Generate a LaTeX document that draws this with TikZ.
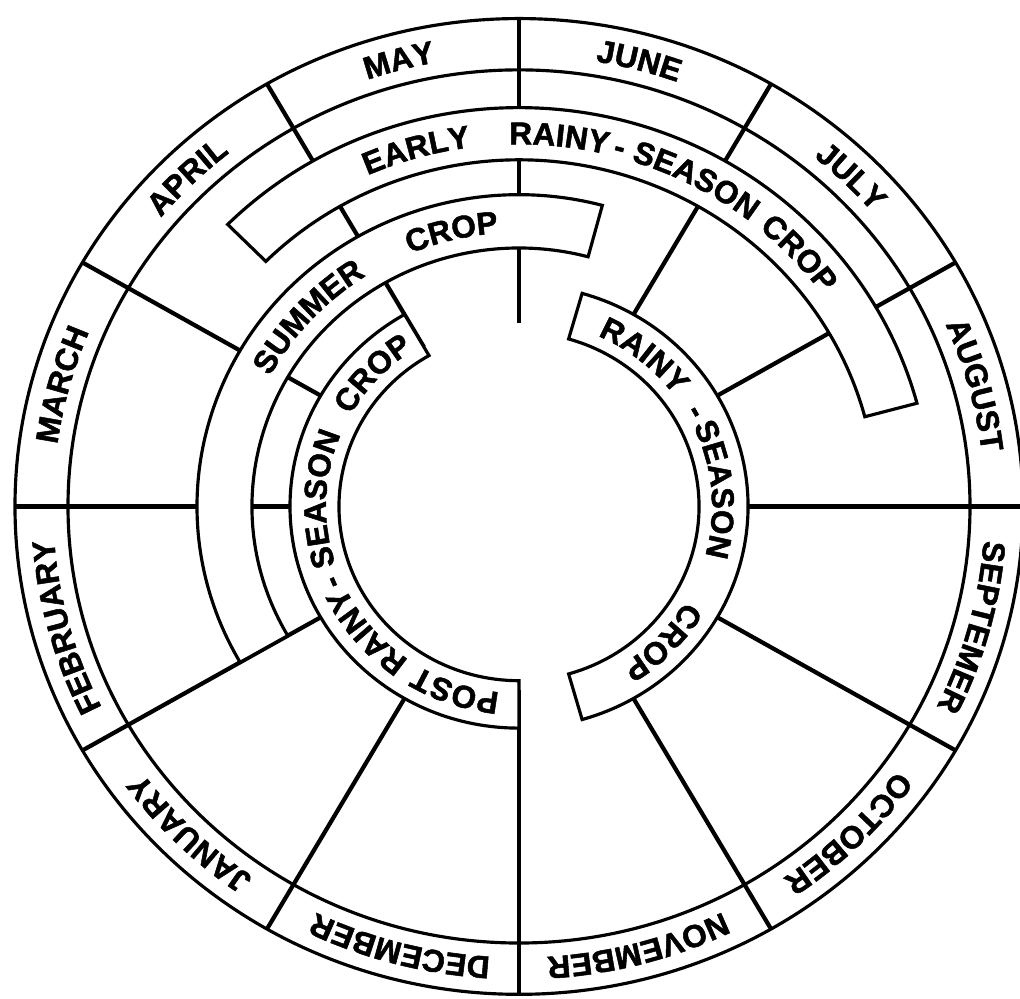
\documentclass[tikz,border=0pt]{standalone}
\usepackage{fontspec}
\setmainfont{Liberation Sans}[BoldFeatures={FakeBold=1.6}]
\usetikzlibrary{decorations.text}

\newcommand\lblfont{\fontsize{9}{10}\selectfont\bfseries}
\newcommand\arcword[3]{%
  \path[decorate,decoration={text along path,text align=center,
      text/.expanded={|\noexpand\lblfont|#3}}]
    ({#2+60}:#1) arc[start angle={#2+60},end angle={#2-60},radius=#1];}

\begin{document}
\begin{tikzpicture}[x=1cm,y=0.968cm,
  ring/.style={line width=0.9pt},
  spoke/.style={line width=1.2pt},
  band/.style={draw,fill=white,line width=0.9pt}]
  \path[fill=white,use as bounding box] (-5.19,-5.088) rectangle (5.01,5.232);
  \foreach \a in {0,30,...,330}
    \draw[spoke] (\a:5.04) -- (\a:1.9);
  \draw[ring] (0,0) circle[radius=5.04] (0,0) circle[radius=4.51];
  \path[band] (135:4.12) arc[start angle=135,end angle=15,radius=4.12]
    -- (15:3.58) arc[start angle=15,end angle=135,radius=3.58] -- cycle;
  \path[band] (75:3.22) arc[start angle=75,end angle=210,radius=3.22]
    -- (210:2.67) arc[start angle=210,end angle=75,radius=2.67] -- cycle;
  \path[band] (74:2.29) arc[start angle=74,end angle=-74,radius=2.29]
    -- (-74:1.80) arc[start angle=-74,end angle=74,radius=1.80] -- cycle;
  \path[band] (-90:2.29) arc[start angle=-90,end angle=-240,radius=2.29]
    -- (-240:1.80) arc[start angle=-240,end angle=-90,radius=1.80] -- cycle;
  \foreach \a/\m in {105/MAY,75/JUNE,45/JULY,15/AUGUST,-15/SEPTEMER,-45/OCTOBER,
      -75/NOVEMBER,-105/DECEMBER,-135/JANUARY,-165/FEBRUARY,165/MARCH,135/APRIL}
    \arcword{4.66}{\a}{\m};
  \foreach \r/\a/\w in {3.74/106/EARLY,3.74/83.8/RAINY,3.74/74.4/-,3.74/61.7/SEASON,
      3.74/42.3/CROP,2.83/137.8/SUMMER,2.83/103.7/CROP,
      1.93/50.5/RAINY,1.93/28.3/-,1.93/5/SEASON,1.93/-43.5/CROP,
      1.93/-109/POST,1.93/-140.4/RAINY,1.93/-157.8/-,1.93/-182.2/SEASON,1.93/137.6/CROP}
    \arcword{\r}{\a}{\w};
\end{tikzpicture}
\end{document}
